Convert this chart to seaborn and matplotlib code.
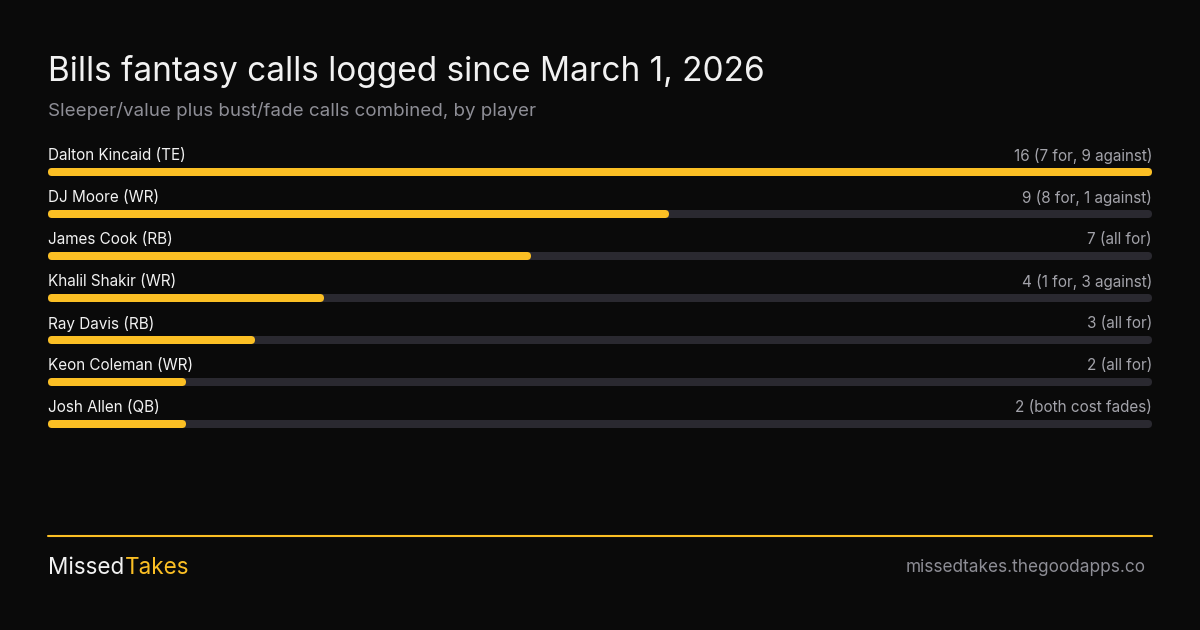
import matplotlib
matplotlib.use("Agg")
import matplotlib.pyplot as plt
import seaborn as sns
import pandas as pd
from matplotlib.patches import FancyBboxPatch

players = ["Dalton Kincaid (TE)", "DJ Moore (WR)", "James Cook (RB)", "Khalil Shakir (WR)",
           "Ray Davis (RB)", "Keon Coleman (WR)", "Josh Allen (QB)"]
calls = [16, 9, 7, 4, 3, 2, 2]
notes = ["16 (7 for, 9 against)", "9 (8 for, 1 against)", "7 (all for)", "4 (1 for, 3 against)",
         "3 (all for)", "2 (all for)", "2 (both cost fades)"]
max_calls = 16

BG = "#0a0a0a"
YELLOW = "#fbbf24"
TRACK = "#2a2930"
WHITE = "#f2f2f2"
GRAY = "#8e8e96"
LGRAY = "#a3a3aa"

sns.set_theme(style="white")
plt.rcParams["font.family"] = ["Inter", "DejaVu Sans"]

W, H = 1200, 630
fig = plt.figure(figsize=(12, 6.3), dpi=100, facecolor=BG)

n = len(players)
row = 42
top_px = 172 - row / 2
bot_px = top_px + row * n
ax = fig.add_axes([48 / W, 1 - bot_px / H, 1104 / W, (bot_px - top_px) / H])
ax.set_facecolor(BG)

df = pd.DataFrame({"player": players, "calls": calls, "track": [max_calls] * n})
bar_h = 8 / row
sns.barplot(data=df, y="player", x="track", color=TRACK, width=bar_h, orient="h", ax=ax,
            saturation=1)
sns.barplot(data=df, y="player", x="calls", color=YELLOW, width=bar_h, orient="h", ax=ax,
            saturation=1)
ax.set_xlim(0, max_calls)
ax.set_ylim(n - 0.5, -0.5)

px_x = max_calls / 1104.0
px_y = 1.0 / row
r_px = 4
for p in list(ax.patches):
    x0, y0 = p.get_x(), p.get_y()
    w, h = p.get_width(), p.get_height()
    fc = p.get_facecolor()
    p.remove()
    fb = FancyBboxPatch((x0, y0), w, h,
                        boxstyle=f"round,pad=0,rounding_size={r_px * px_x}",
                        mutation_aspect=px_y / px_x,
                        facecolor=fc, edgecolor="none", linewidth=0)
    ax.add_patch(fb)

for i, (name, note) in enumerate(zip(players, notes)):
    ax.text(0, i - 16 / row, name, color=WHITE, fontsize=11, va="center", ha="left")
    ax.text(max_calls, i - 16 / row, note, color=LGRAY, fontsize=11, va="center", ha="right")

ax.set_xlabel("")
ax.set_ylabel("")
ax.set_xticks([])
ax.set_yticks([])
for s in ax.spines.values():
    s.set_visible(False)

fig.text(48 / W, 1 - 72 / H, "Bills fantasy calls logged since March 1, 2026",
         color=WHITE, fontsize=24, va="center", ha="left")
fig.text(48 / W, 1 - 111 / H, "Sleeper/value plus bust/fade calls combined, by player",
         color=GRAY, fontsize=13.5, va="center", ha="left")

fig.add_artist(plt.Line2D([48 / W, 1152 / W], [1 - 535.5 / H, 1 - 535.5 / H],
                          color=YELLOW, linewidth=1.5))
t1 = fig.text(48 / W, 1 - 568 / H, "Missed", color=WHITE, fontsize=16.2, va="center", ha="left")
fig.canvas.draw()
bb = t1.get_window_extent()
fig.text(bb.x1 / W + 1 / W, 1 - 568 / H, "Takes", color=YELLOW, fontsize=16.2, va="center", ha="left")
fig.text(1146 / W, 1 - 568 / H, "missedtakes.thegoodapps.co", color=GRAY, fontsize=12.4,
         va="center", ha="right")

fig.savefig("out.png", dpi=100, facecolor=BG)
